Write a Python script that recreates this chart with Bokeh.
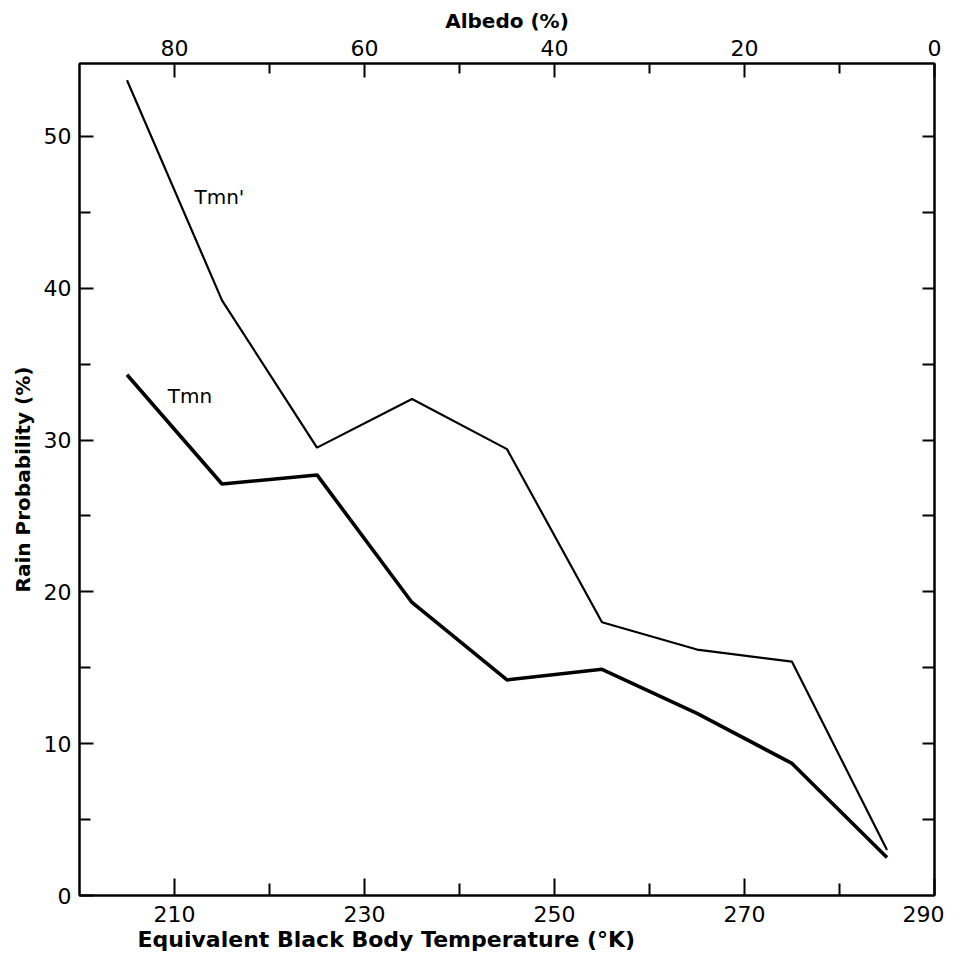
from bokeh.plotting import figure
from bokeh.models import Range1d, LinearAxis, FixedTicker, Title, ColumnDataSource
from bokeh.core.properties import value
from bokeh.embed import file_html
from bokeh.resources import INLINE

# ---- data ----
temperature = [205, 215, 225, 235, 245, 255, 265, 275, 285]
tmn_prime = [53.7, 39.2, 29.5, 32.7, 29.4, 18.0, 16.2, 15.4, 3.0]
tmn = [34.3, 27.1, 27.7, 19.3, 14.2, 14.9, 12.0, 8.7, 2.5]
series_names = ["Tmn'", "Tmn"]
x_major = [210, 230, 250, 270, 290]
x_minor = [220, 240, 260, 280]
albedo_major = [80, 60, 40, 20, 0]
albedo_minor = [70, 50, 30, 10]
y_major = [0, 10, 20, 30, 40, 50]
y_minor = [5, 15, 25, 35, 45]
y_right = [5, 10, 15, 20, 25, 30, 35, 40, 45, 50]

FONT = "DejaVu Sans"

p = figure(frame_width=855, frame_height=832,
           x_range=Range1d(200, 290), y_range=Range1d(0, 54.8),
           x_axis_location=None, y_axis_location=None,
           output_backend="svg", toolbar_location=None,
           min_border_left=79, min_border_top=63, min_border_right=10, min_border_bottom=40)
p.extra_x_ranges = {"albedo": Range1d(start=90, end=0)}
p.grid.grid_line_color = None
p.outline_line_color = "black"
p.outline_line_width = 2
p.background_fill_color = "white"
p.border_fill_color = "white"

def style(ax, label_size="22px"):
    ax.axis_line_color = "black"
    ax.axis_line_width = 2
    ax.major_tick_line_color = "black"
    ax.minor_tick_line_color = "black"
    ax.major_tick_line_width = 2
    ax.minor_tick_line_width = 2
    ax.major_tick_out = 0
    ax.minor_tick_out = 0
    ax.major_label_text_font = FONT
    ax.major_label_text_font_size = label_size
    ax.major_label_text_color = "black"
    ax.axis_label_text_font = FONT
    ax.axis_label_text_font_style = "bold"
    ax.axis_label_text_color = "black"

left = LinearAxis(ticker=FixedTicker(ticks=y_major, minor_ticks=y_minor),
                  axis_label="Rain Probability (%)")
style(left)
left.major_tick_in = 14
left.minor_tick_in = 11
left.major_label_standoff = 8
left.axis_label_text_font_size = "20px"
left.axis_label_standoff = 6
p.add_layout(left, "left")

right = LinearAxis(ticker=FixedTicker(ticks=[], minor_ticks=y_right))
style(right)
right.minor_tick_in = 12
p.add_layout(right, "right")

bottom = LinearAxis(ticker=FixedTicker(ticks=x_major, minor_ticks=x_minor))
style(bottom)
bottom.major_tick_in = 17
bottom.minor_tick_in = 12
bottom.major_label_standoff = 10
p.add_layout(bottom, "below")

top = LinearAxis(x_range_name="albedo",
                 ticker=FixedTicker(ticks=albedo_major, minor_ticks=albedo_minor),
                 axis_label="Albedo (%)")
style(top)
top.major_tick_in = 14
top.minor_tick_in = 10
top.major_label_standoff = 8
top.axis_label_text_font_size = "20px"
top.axis_label_standoff = 4
p.add_layout(top, "above")

xt = Title(text="Equivalent Black Body Temperature (°K)", align="left", offset=58,
           text_font=FONT, text_font_size="22px", text_font_style="bold",
           text_color="black", standoff=0)
p.add_layout(xt, "below")

p.line(temperature, tmn_prime, line_color="black", line_width=2.2)
p.line(temperature, tmn, line_color="black", line_width=3.6)

lab = ColumnDataSource(dict(x=[212.1, 209.3], y=[46.0, 32.9], t=series_names))
p.text(x="x", y="y", text="t", source=lab, text_font=value(FONT),
       text_font_size="20px", text_baseline="middle", text_align="left",
       text_color="black")

open("out.html", "w").write(file_html(p, INLINE))
